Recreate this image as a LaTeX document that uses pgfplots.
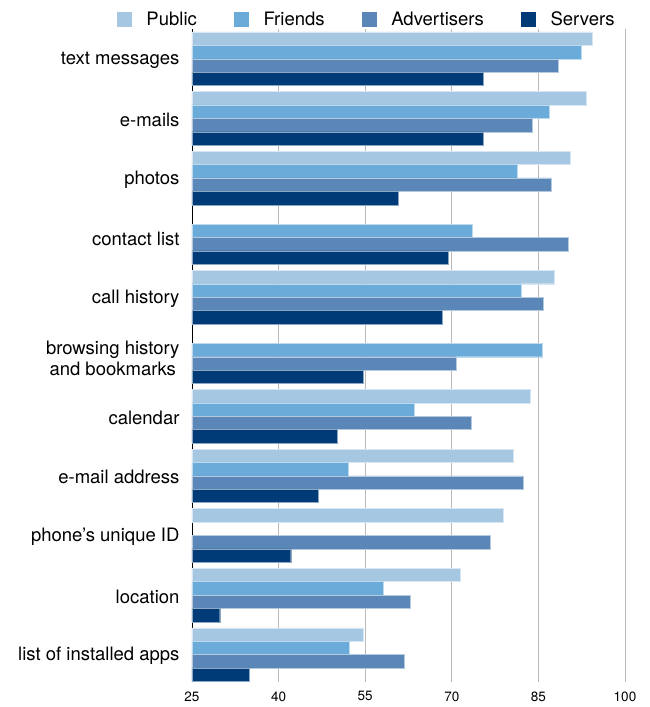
\documentclass[border=0pt]{standalone}
\usepackage{fontspec}
\setmainfont{TeX Gyre Heros}
\usepackage{pgfplots}
\pgfplotsset{compat=1.18}
\definecolor{cPub}{HTML}{A5C7E2}
\definecolor{cFri}{HTML}{6AABDA}
\definecolor{cAdv}{HTML}{5A87B8}
\definecolor{cSrv}{HTML}{003B78}
\begin{document}
\begin{tikzpicture}
\useasboundingbox (0,0) rectangle (649pt,-707pt);
\begin{axis}[
  at={(192pt,-29pt)}, anchor=north west,
  scale only axis, width=433pt, height=653pt,
  xbar,
  xmin=25, xmax=100, ymin=-0.5, ymax=10.46,
  y dir=reverse,
  ytick={0,...,10},
  yticklabels={text messages, e-mails, photos, contact list, call history, {browsing history\\and bookmarks}, calendar, e-mail address, phone’s unique ID, location, list of installed apps},
  xtick={25,40,55,70,85,100},
  xmajorgrids, grid style={color=black!27, line width=0.9pt},
  major tick length=0pt,
  axis lines*=left,
  x axis line style={draw=none},
  y axis line style={black, line width=0.9pt},
  yticklabel style={font=\fontsize{18.5}{21.5}\selectfont, align=center, xshift=-9pt, yshift=-1.5pt},
  xticklabel style={font=\fontsize{13.5}{16}\selectfont, yshift=-6pt},
  /pgf/number format/assume math mode=true,
  bar width=0.225,
  legend columns=4,
  legend style={draw=none, fill=none, at={(-0.173,1.0153)}, anchor=west,
    font=\fontsize{18.5}{21.5}\selectfont, inner sep=0pt,
    nodes={inner sep=0pt},
    /tikz/every even column/.append style={column sep=37.5pt}},
  legend image code/.code={\fill[#1,draw=none] (0pt,-7.5pt) rectangle (15pt,7.5pt); \path (29pt,0pt);},
]
\addplot[fill=cPub, draw=cPub!45!white, line width=0.4pt, bar shift=-0.3375] coordinates {
(94.4,0) (93.3,1) (90.5,2) (87.7,4) (83.6,6) (80.7,7) (78.9,8) (71.5,9) (54.7,10)};
\addplot[fill=cFri, draw=cFri!45!white, line width=0.4pt, bar shift=-0.1125] coordinates {
(92.4,0) (86.8,1) (81.3,2) (73.5,3) (82.0,4) (85.6,5) (63.5,6) (52.0,7) (58.1,9) (52.3,10)};
\addplot[fill=cAdv, draw=cAdv!45!white, line width=0.4pt, bar shift=0.1125] coordinates {
(88.5,0) (83.9,1) (87.2,2) (90.1,3) (85.8,4) (70.7,5) (73.4,6) (82.3,7) (76.6,8) (62.8,9) (61.8,10)};
\addplot[fill=cSrv, draw=cSrv!45!white, line width=0.4pt, bar shift=0.3375] coordinates {
(75.4,0) (75.4,1) (60.8,2) (69.3,3) (68.3,4) (54.6,5) (50.1,6) (46.9,7) (42.1,8) (29.8,9) (34.9,10)};
\legend{Public, Friends, Advertisers, Servers}
\end{axis}
\end{tikzpicture}
\end{document}
